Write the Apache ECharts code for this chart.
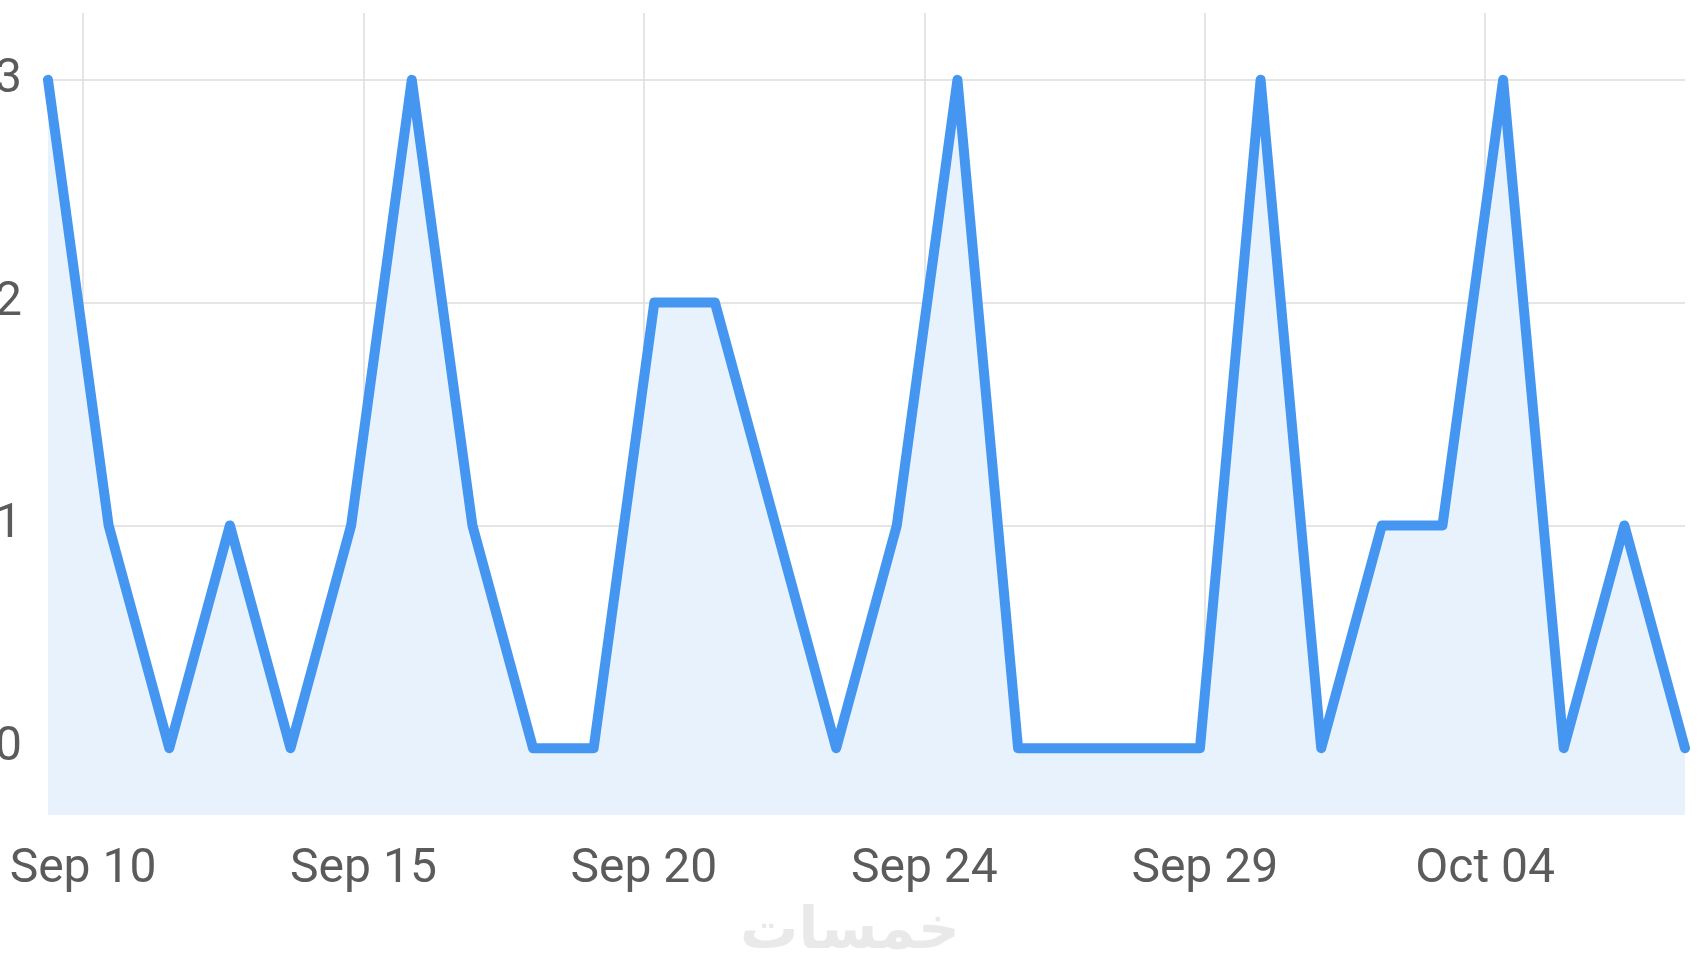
<!DOCTYPE html>
<html>
<head>
<meta charset="utf-8">
<script src="https://cdn.jsdelivr.net/npm/echarts@6/dist/echarts.min.js"></script>
<style>
html,body{margin:0;padding:0;background:#fff;}
#chart{width:1700px;height:970px;}
</style>
</head>
<body>
<div id="chart"></div>
<script>
// Data points (one per sample, evenly spaced)
const values = [3,1,0,1,0,1,3,1,0,0,2,2,1,0,1,3,0,0,0,0,3,0,1,1,3,0,1,0];
const categories = values.map((_, i) => 'p' + i);
// Date tick labels on the evenly spaced vertical gridlines
const tickLabels = ['Sep 10','Sep 15','Sep 20','Sep 24','Sep 29','Oct 04'];
// Y tick labels
const yTicks = ['0','1','2','3'];

// Gridline axis for dates: 8 sub-steps per labelled gridline, range starts one sub-step before "Sep 10"
const SUB = 8;
const xTickMin = -1;
const xTickMax = 45.7;
// Y axis: sub-steps of 0.1, range -0.3 .. 3.3
const Y_SUB = 10;
const yMin = -0.3, yMax = 3.3;

const GRID = '#dcdcdc';
const NONE = 'rgba(0,0,0,0)';
function cycle(n, idx){ const a=[]; for(let i=0;i<n;i++) a.push(i===idx?GRID:NONE); return a; }

const chart = echarts.init(document.getElementById('chart'), null, {renderer:'canvas'});
const labelFont = {fontFamily:'Roboto', fontSize:48, color:'#5b5b5b'};
chart.setOption({
  animation:false,
  backgroundColor:'#ffffff',
  grid:{left:48, right:15, top:13, bottom:155, containLabel:false, outerBoundsMode:'none'},
  xAxis:[
    {
      type:'category', data:categories, boundaryGap:false,
      axisLine:{show:false}, axisTick:{show:false}, axisLabel:{show:false}, splitLine:{show:false}
    },
    {
      type:'value', position:'bottom', min:xTickMin, max:xTickMax, interval:1,
      axisLine:{show:false}, axisTick:{show:false},
      axisLabel:Object.assign({
        margin:31, showMinLabel:false, showMaxLabel:false,
        formatter:function(v){ const k=Math.round(v); if (Math.abs(v-k)>1e-6 || k<0 || k%SUB!==0) return ''; return tickLabels[k/SUB] || ''; }
      }, labelFont),
      splitLine:{show:true, lineStyle:{color:cycle(SUB,1), width:1.5}}
    }
  ],
  yAxis:{
    type:'value', min:yMin, max:yMax, interval:1/Y_SUB,
    axisLine:{show:false}, axisTick:{show:false},
    axisLabel:Object.assign({
      margin:26, showMinLabel:false, showMaxLabel:false,
      formatter:function(v){ const k=Math.round(v); return (Math.abs(v-k)<1e-6 && yTicks[k]!==undefined) ? yTicks[k] : ''; }
    }, labelFont),
    splitLine:{show:true, lineStyle:{color:cycle(Y_SUB,3), width:1.5}}
  },
  series:[{
    type:'line', xAxisIndex:0, data:values, symbol:'none',
    lineStyle:{color:'#4496f1', width:10, join:'round', cap:'round'},
    areaStyle:{color:'#e8f2fd', opacity:1, origin:'start'}
  }],
  graphic:[{
    type:'text', left:'center', top:904,
    style:{text:'خمسات', font:'bold 58px "DejaVu Sans"', fill:'#e9e9e9'}
  }]
});
</script>
</body>
</html>
